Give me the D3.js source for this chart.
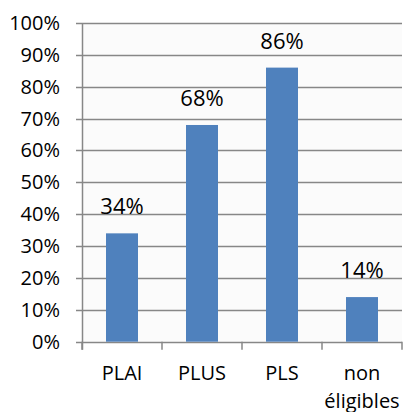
<!DOCTYPE html>
<html>
<head>
<meta charset="utf-8">
<script src="https://cdn.jsdelivr.net/npm/d3@7"></script>
<style>
  body { margin: 0; background: #fff; }
  text { font-family: "Open Sans", sans-serif; fill: #000; }
</style>
</head>
<body>
<svg></svg>
<script>
var categories = ['PLAI', 'PLUS', 'PLS', 'non|éligibles'];
var values = [0.34, 0.68, 0.86, 0.14];
var valueLabels = ['34%', '68%', '86%', '14%'];
var yTicks = [0, 0.1, 0.2, 0.3, 0.4, 0.5, 0.6, 0.7, 0.8, 0.9, 1];

var margin = {top: 23, right: 2, bottom: 70, left: 82},
  width = 404 - margin.left - margin.right,
  height = 412 - margin.top - margin.bottom - 0.3;

var svg = d3.select('svg')
  .attr('width', 404)
  .attr('height', 412)
  .append('g')
  .attr('transform', 'translate(' + margin.left + ',' + margin.top + ')');

var x = d3.scaleBand()
  .range([0, width])
  .domain(categories)
  .paddingInner(0.6)
  .paddingOuter(0.3);

var y = d3.scaleLinear()
  .range([height, 0])
  .domain([0, 1]);

// plot background
svg.append('rect')
  .attr('x', 0)
  .attr('y', 0)
  .attr('width', width)
  .attr('height', height)
  .style('fill', '#fbfbfb');

// gridlines
svg.append('g')
  .selectAll('line')
  .data(yTicks)
  .enter().append('line')
  .attr('x1', -6)
  .attr('x2', width)
  .attr('y1', function(d) { return Math.round(y(d)) + 0.5; })
  .attr('y2', function(d) { return Math.round(y(d)) + 0.5; })
  .style('stroke', '#878787')
  .style('stroke-width', 1.5);

// y labels
svg.append('g')
  .selectAll('text')
  .data(yTicks)
  .enter().append('text')
  .attr('x', -22)
  .attr('y', function(d) { return y(d) + 7; })
  .style('text-anchor', 'end')
  .style('font-size', '20px')
  .text(function(d) { return Math.round(d * 100) + '%'; });

// y axis line
svg.append('line')
  .attr('x1', 0.5).attr('x2', 0.5)
  .attr('y1', 0).attr('y2', height + 8)
  .style('stroke', '#878787')
  .style('stroke-width', 1.5);

// category ticks
var step = x.step();
var tickPos = d3.range(categories.length + 1).map(function(i) { return i * width / categories.length; });
svg.append('g')
  .selectAll('line')
  .data(tickPos)
  .enter().append('line')
  .attr('x1', function(d) { return d; })
  .attr('x2', function(d) { return d; })
  .attr('y1', height)
  .attr('y2', height + 8)
  .style('stroke', '#878787')
  .style('stroke-width', 1.5);

// bars
svg.selectAll('.bar')
  .data(values)
  .enter().append('rect')
  .attr('class', 'bar')
  .attr('x', function(d, i) { return x(categories[i]); })
  .attr('y', function(d) { return y(d); })
  .attr('width', x.bandwidth())
  .attr('height', function(d) { return height - y(d); })
  .style('fill', '#4f81bd');

// value labels
svg.selectAll('.val')
  .data(values)
  .enter().append('text')
  .attr('class', 'val')
  .attr('x', function(d, i) { return x(categories[i]) + x.bandwidth() / 2; })
  .attr('y', function(d) { return y(d) - 19; })
  .style('text-anchor', 'middle')
  .style('font-size', '22px')
  .text(function(d, i) { return valueLabels[i]; });

// category labels
var cat = svg.selectAll('.cat')
  .data(categories)
  .enter().append('text')
  .attr('class', 'cat')
  .style('text-anchor', 'middle')
  .style('font-size', '20px')
  .attr('transform', function(d) {
    return 'translate(' + (x(d) + x.bandwidth() / 2) + ',' + (height + 38) + ')';
  });

cat.selectAll('tspan')
  .data(function(d) { return d.split('|'); })
  .enter().append('tspan')
  .attr('x', 0)
  .attr('dy', function(d, i) { return i === 0 ? 0 : 28; })
  .text(function(d) { return d; });
</script>
</body>
</html>
